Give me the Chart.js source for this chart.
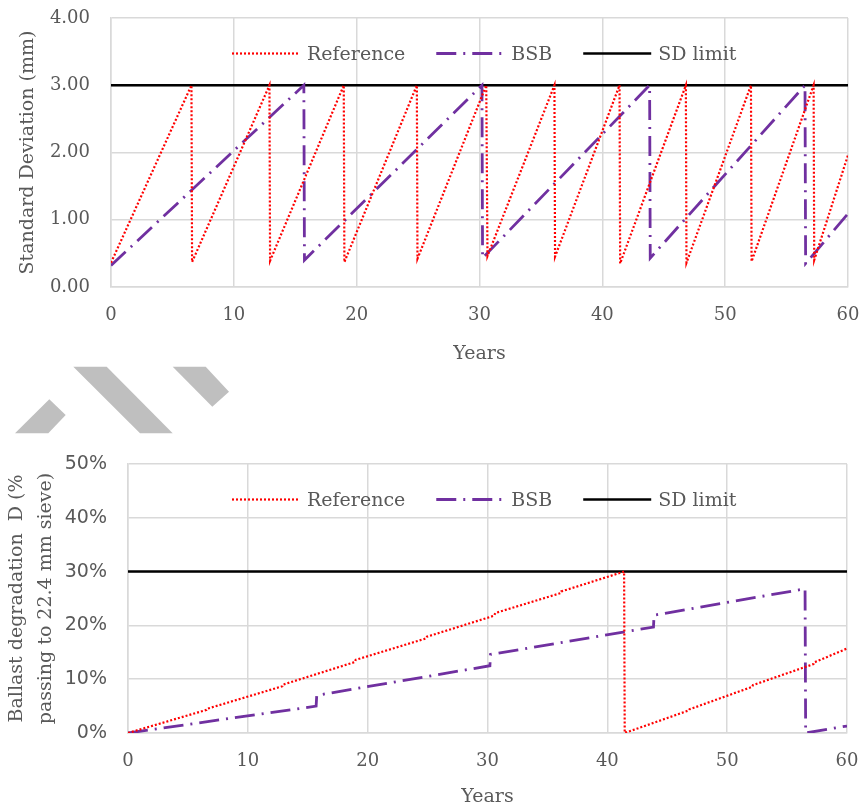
<!DOCTYPE html>
<html lang="en">
<head>
<meta charset="UTF-8">
<title>Standard deviation and ballast degradation</title>
<script src="https://cdn.jsdelivr.net/npm/chart.js@4.4.1/dist/chart.umd.min.js"></script>
<style>
    body { margin: 0; background: #fff; }
    #wrap { position: relative; width: 861px; height: 808px; }
    #sdBox { position: absolute; left: 0; top: 0; width: 861px; height: 370px; }
    #degBox { position: absolute; left: 0; top: 440px; width: 861px; height: 368px; }
    #deco { position: absolute; left: 0; top: 360px; }
</style>
</head>
<body>
<div id="wrap">
    <div id="sdBox"><canvas id="sdChart"></canvas></div>
    <svg id="deco" width="240" height="80">
        <!-- grey stripes between the two charts -->
        <polygon points="15,73.3 49.3,39.3 65.7,55 48.3,73.3" fill="#bfbfbf"/>
        <polygon points="73.3,6.7 106.7,6.7 172.7,73.3 140,73.3" fill="#bfbfbf"/>
        <polygon points="172.7,6.7 205.7,6.7 229,31.7 212.3,46.7" fill="#bfbfbf"/>
    </svg>
    <div id="degBox"><canvas id="degChart"></canvas></div>
</div>

<script>
// Reference track: maintenance times (years)
const refYears = [0, 6.55, 6.6, 12.9, 12.95, 18.95, 19.0, 24.9, 24.95, 30.55, 30.65,
                  36.1, 36.15, 41.4, 41.45, 46.8, 46.85, 52.1, 52.15, 57.2, 57.25, 60];
// Reference standard deviation (mm)
const refSd = [0.36, 3.0, 0.37, 3.0, 0.39, 3.0, 0.37, 3.0, 0.42, 3.0, 0.46,
               3.0, 0.45, 3.0, 0.35, 3.0, 0.36, 3.0, 0.38, 3.0, 0.40, 1.96];
// Reference ballast degradation (%)
const refDeg = [0, 4.3, 4.5, 8.7, 9.0, 13.2, 13.6, 17.6, 17.9, 21.8, 22.3,
                26.0, 26.3, 30.0, 0, 4.2, 4.4, 8.6, 8.9, 12.8, 13.1, 15.7];

// BSB track
const bsbYears = [0, 15.7, 15.75, 30.2, 30.25, 43.85, 43.9, 56.5, 56.55, 60];
const bsbSd = [0.32, 3.0, 0.40, 3.0, 0.43, 3.0, 0.43, 3.0, 0.35, 1.09];
const bsbDeg = [0, 5.0, 7.0, 12.5, 14.6, 19.7, 21.9, 26.8, 0, 1.3];

// limit lines
const limitYears = [0, 60];
const sdLimit = [3, 3];
const degLimit = [30, 30];

const TEXT = '#595959';
const GRID = '#d9d9d9';

function pts(xs, ys) {
    return xs.map((x, i) => ({x: x, y: ys[i]}));
}

// legend drawn inside the plot area, like the original
const insideLegend = {
    id: 'insideLegend',
    afterDatasetsDraw(chart) {
        const {ctx, chartArea} = chart;
        const y = chartArea.top + 35.5;
        ctx.save();
        ctx.font = '19px "DejaVu Serif"';
        let x = chart.width - 629;
        chart.data.datasets.forEach(ds => {
            const w = ctx.measureText(ds.label).width;
            ctx.strokeStyle = ds.borderColor;
            ctx.lineWidth = ds.borderWidth;
            ctx.setLineDash(ds.borderDash || []);
            ctx.beginPath();
            ctx.moveTo(x, y);
            ctx.lineTo(x + 68, y);
            ctx.stroke();
            ctx.setLineDash([]);
            ctx.fillStyle = TEXT;
            ctx.textBaseline = 'middle';
            ctx.fillText(ds.label, x + 75, y + 2);
            x += 75 + w + 31;
        });
        ctx.restore();
    }
};

function datasets(refY, bsbY, limY) {
    return [
        { label: 'Reference', data: pts(refYears, refY), borderColor: '#ff0000',
          borderWidth: 2.2, borderDash: [2, 2] },
        { label: 'BSB', data: pts(bsbYears, bsbY), borderColor: '#7030a0',
          borderWidth: 2.8, borderDash: [20, 7, 2, 7] },
        { label: 'SD limit', data: pts(limitYears, limY), borderColor: '#000000',
          borderWidth: 2.5 }
    ].map(d => Object.assign(d, { showLine: true, pointRadius: 0, tension: 0, fill: false }));
}

function makeChart(id, cfg) {
    return new Chart(document.getElementById(id), {
        type: 'scatter',
        data: { datasets: cfg.data },
        plugins: [insideLegend],
        options: {
            responsive: true,
            maintainAspectRatio: false,
            animation: false,
            layout: { padding: cfg.padding },
            plugins: { legend: { display: false }, tooltip: { enabled: false } },
            scales: {
                x: {
                    type: 'linear', min: 0, max: 60,
                    afterFit: s => { s.height = cfg.xHeight; s.paddingLeft = 0; s.paddingRight = 0; },
                    grid: { color: GRID, lineWidth: 1.5, drawTicks: false },
                    border: { color: GRID, width: 1.5 },
                    ticks: { stepSize: 10, padding: 18, color: TEXT,
                             font: { family: 'DejaVu Serif', size: 18 } },
                    title: { display: true, text: 'Years', color: TEXT,
                             padding: { top: 0, bottom: cfg.xTitlePad },
                             font: { family: 'DejaVu Serif', size: 19 } }
                },
                y: {
                    min: 0, max: cfg.yMax,
                    afterFit: s => { s.width = cfg.yWidth; s.paddingTop = 0; s.paddingBottom = 0; },
                    grid: { color: GRID, lineWidth: 1.5, drawTicks: false },
                    border: { color: GRID, width: 1.5 },
                    ticks: { stepSize: cfg.yStep, padding: 21, color: TEXT,
                             font: cfg.yTickFont, callback: cfg.yFormat },
                    title: { display: true, text: cfg.yTitle, color: TEXT,
                             padding: { top: cfg.yTitlePad, bottom: 0 },
                             font: { family: 'DejaVu Serif', size: 19, lineHeight: 1.5 } }
                }
            }
        }
    });
}

makeChart('sdChart', {
    data: datasets(refSd, bsbSd, sdLimit),
    padding: { left: 0, right: 13, top: 18, bottom: 0 },
    xHeight: 83, yWidth: 111, xTitlePad: 5,
    yMax: 4, yStep: 1,
    yFormat: v => v.toFixed(2),
    yTickFont: { family: 'DejaVu Serif', size: 18 },
    yTitle: 'Standard Deviation (mm)', yTitlePad: 14
});

makeChart('degChart', {
    data: datasets(refDeg, bsbDeg, degLimit),
    padding: { left: 0, right: 14, top: 24, bottom: 0 },
    xHeight: 75, yWidth: 128, xTitlePad: 0,
    yMax: 50, yStep: 10,
    yFormat: v => v + '%',
    yTickFont: { family: 'DejaVu Sans', size: 19 },
    yTitle: ['Ballast degradation  D (%', 'passing to 22.4 mm sieve)'], yTitlePad: 3
});
</script>
</body>
</html>
